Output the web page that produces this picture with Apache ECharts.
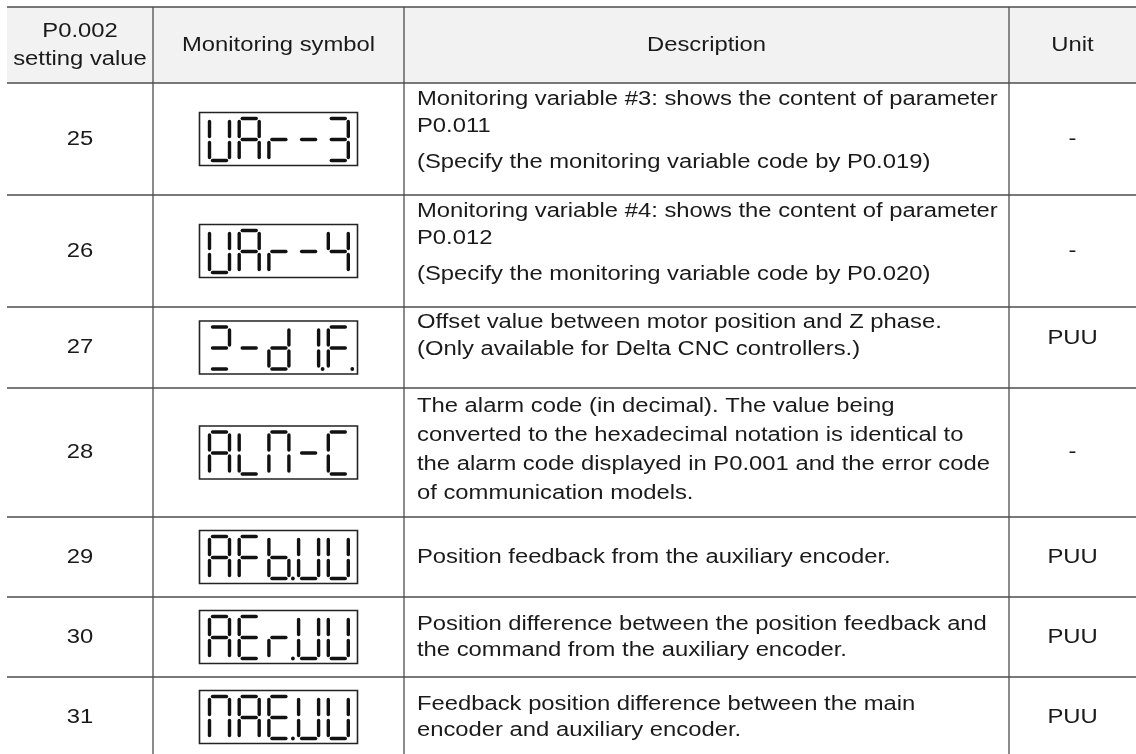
<!DOCTYPE html>
<html>
<head>
<meta charset="utf-8">
<script src="https://cdn.jsdelivr.net/npm/echarts@6/dist/echarts.min.js"></script>
<style>
html,body{margin:0;padding:0;background:#fff;}
#main{width:1136px;height:754px;}
</style>
</head>
<body>
<div id="main"></div>
<script>
// ---------------- data ----------------
const headers = ['P0.002\nsetting value', 'Monitoring symbol', 'Description', 'Unit'];
const settingValues = [25, 26, 27, 28, 29, 30, 31];
const symbols = ['UAr-3', 'UAr-4', 'Z-d1.F.', 'ALN-C', 'AFb.UU', 'AEr.UU', 'NAE.UU'];
const descriptions = [
  [['Monitoring variable #3: shows the content of parameter', 'P0.011'], ['(Specify the monitoring variable code by P0.019)']],
  [['Monitoring variable #4: shows the content of parameter', 'P0.012'], ['(Specify the monitoring variable code by P0.020)']],
  [['Offset value between motor position and Z phase.', '(Only available for Delta CNC controllers.)']],
  [['The alarm code (in decimal). The value being', 'converted to the hexadecimal notation is identical to', 'the alarm code displayed in P0.001 and the error code', 'of communication models.']],
  [['Position feedback from the auxiliary encoder.']],
  [['Position difference between the position feedback and', 'the command from the auxiliary encoder.']],
  [['Feedback position difference between the main', 'encoder and auxiliary encoder.']]
];
const units = ['-', '-', 'PUU', '-', 'PUU', 'PUU', 'PUU'];

// ---------------- layout / style ----------------
const L = {
  top: 7, left: 7, right: 1136, bottom: 754, headerBottom: 83,
  rowBottoms: [195, 307, 388, 517, 597, 677, 757],
  colX: [153, 404, 1009],
  col1C: 80, col2C: 278.5, descX: 417, unitC: 1072.5,
  font: 20, sx: 1.19, pgap: 9, hlh: 28,
  rowLH: [27, 27, 27, 29, 26, 26, 26],
  descTopAligned: [true, true, true, true, false, false, false],
  descTopPad: [16, 16, 15, 18, 0, 0, 0],
  unitDy: [0, 0, -9, 0, 0, 0, 0],
  boxW: 158, boxH: 53,
  segW: 20, segH: 42, segOff: 10, segPitch: 29.7, segLW: 3.4
};
const lineColor = '#4d4d4d';
const textColor = '#1a1a1a';
const FONT = L.font + 'px "Liberation Sans", Arial, sans-serif';
const SEG = {U:'bcdef', A:'abcefg', r:'eg', '-':'g', '3':'abcdg', '4':'bcfg', Z:'abgd', d:'bcdeg', '1':'bc', F:'aefg', L:'def', N:'abcef', C:'adef', b:'cdefg', E:'adefg'};

function parseSymbol(s) {
  const cells = [];
  for (const ch of s) {
    if (ch === '.') { if (cells.length) cells[cells.length - 1].dp = true; }
    else cells.push({ ch: ch, dp: false });
  }
  return cells;
}

function txt(api, x, y, s, align) {
  const p = api.coord([x, y]);
  return { type: 'text', x: p[0], y: p[1], scaleX: L.sx, scaleY: 1,
    style: { text: s, font: FONT, fill: textColor, align: align, verticalAlign: 'middle' } };
}
function hline(api, x1, x2, y, color, w) {
  const a = api.coord([x1, y]), b = api.coord([x2, y]);
  return { type: 'line', shape: { x1: a[0], y1: a[1], x2: b[0], y2: b[1] }, style: { stroke: color, lineWidth: w } };
}
function vline(api, x, y1, y2, color, w) {
  const a = api.coord([x, y1]), b = api.coord([x, y2]);
  return { type: 'line', shape: { x1: a[0], y1: a[1], x2: b[0], y2: b[1] }, style: { stroke: color, lineWidth: w } };
}

function segElems(api, x0, y0, cell) {
  const w = L.segW, h = L.segH, g = 3, m = h / 2;
  const defs = {
    a: [[x0 + g, y0], [x0 + w - g, y0]],
    b: [[x0 + w, y0 + g], [x0 + w, y0 + m - g]],
    c: [[x0 + w, y0 + m + g], [x0 + w, y0 + h - g]],
    d: [[x0 + g, y0 + h], [x0 + w - g, y0 + h]],
    e: [[x0, y0 + m + g], [x0, y0 + h - g]],
    f: [[x0, y0 + g], [x0, y0 + m - g]],
    g: [[x0 + g, y0 + m], [x0 + w - g, y0 + m]]
  };
  const out = [];
  const segs = SEG[cell.ch] || '';
  for (const s of segs) {
    const d = defs[s];
    const p1 = api.coord(d[0]), p2 = api.coord(d[1]);
    out.push({ type: 'line', shape: { x1: p1[0], y1: p1[1], x2: p2[0], y2: p2[1] },
      style: { stroke: '#111', lineWidth: L.segLW, lineCap: 'round' } });
  }
  if (cell.dp) {
    const c = api.coord([x0 + w + 4, y0 + h]);
    out.push({ type: 'circle', shape: { cx: c[0], cy: c[1], r: 1.9 }, style: { fill: '#111' } });
  }
  return out;
}

function renderHeader(params, api) {
  const ch = [];
  const a = api.coord([L.left, L.top]), b = api.coord([L.right, L.headerBottom]);
  ch.push({ type: 'rect', shape: { x: a[0], y: a[1], width: b[0] - a[0], height: b[1] - a[1] }, style: { fill: '#f2f2f2' } });
  ch.push(hline(api, L.left, L.right, L.top, lineColor, 1.3));
  ch.push(hline(api, L.left, L.right, L.headerBottom, lineColor, 1.3));
  for (const x of L.colX) ch.push(vline(api, x, L.top, L.bottom, lineColor, 1.3));
  const cy = (L.top + L.headerBottom) / 2;
  const centers = [L.col1C, L.col2C, (L.colX[1] + L.colX[2]) / 2, L.unitC];
  headers.forEach((h, i) => {
    const lines = h.split('\n');
    lines.forEach((ln, k) => {
      const y = cy + (k - (lines.length - 1) / 2) * L.hlh;
      ch.push(txt(api, centers[i], y, ln, 'center'));
    });
  });
  return { type: 'group', children: ch };
}

function renderRow(params, api) {
  const i = api.value(0);
  const y0 = i === 0 ? L.headerBottom : L.rowBottoms[i - 1];
  const y1 = L.rowBottoms[i];
  const cy = (y0 + y1) / 2;
  const ch = [];
  ch.push(hline(api, L.left, L.right, y1, lineColor, 1.3));
  ch.push(txt(api, L.col1C, cy, String(settingValues[i]), 'center'));
  // seven segment box
  const bx = L.col2C - L.boxW / 2, by = cy - L.boxH / 2;
  const p = api.coord([bx, by]);
  const sz = api.size([L.boxW, L.boxH]);
  ch.push({ type: 'rect', shape: { x: p[0], y: p[1], width: sz[0], height: sz[1] }, style: { fill: 'none', stroke: '#222', lineWidth: 1.6 } });
  const cells = parseSymbol(symbols[i]);
  const sy = cy - L.segH / 2 + 0.5;
  cells.forEach((c, k) => {
    const x0 = bx + L.segOff + k * L.segPitch;
    segElems(api, x0, sy, c).forEach(e => ch.push(e));
  });
  // description
  const lh = L.rowLH[i];
  const paras = descriptions[i];
  let nLines = 0; paras.forEach(pp => nLines += pp.length);
  const blockH = nLines * lh + (paras.length - 1) * L.pgap;
  let y = L.descTopAligned[i] ? y0 + L.descTopPad[i] : cy - blockH / 2 + lh / 2;
  paras.forEach((pp) => {
    pp.forEach(ln => { ch.push(txt(api, L.descX, y, ln, 'left')); y += lh; });
    y += L.pgap;
  });
  ch.push(txt(api, L.unitC, cy + L.unitDy[i], units[i], 'center'));
  return { type: 'group', children: ch };
}

const chart = echarts.init(document.getElementById('main'), null, { renderer: 'canvas' });
chart.setOption({
  animation: false,
  backgroundColor: '#ffffff',
  grid: { left: 0, right: 0, top: 0, bottom: 0 },
  xAxis: { type: 'value', min: 0, max: 1136, show: false },
  yAxis: { type: 'value', min: 0, max: 754, inverse: true, show: false },
  series: [
    { type: 'custom', renderItem: renderHeader, data: [[0]], silent: true, clip: false },
    { type: 'custom', renderItem: renderRow, data: settingValues.map((v, i) => [i]), silent: true, clip: false }
  ]
});
</script>
</body>
</html>
